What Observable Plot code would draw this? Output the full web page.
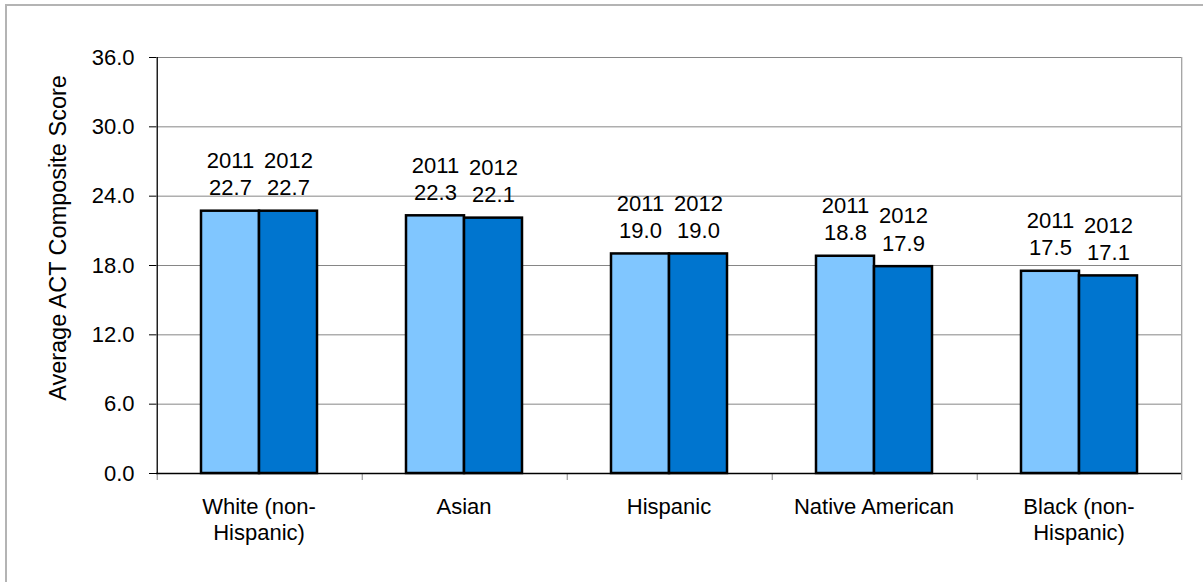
<!DOCTYPE html>
<html><head><meta charset="utf-8">
<script src="https://cdn.jsdelivr.net/npm/d3@7"></script>
<script src="https://cdn.jsdelivr.net/npm/@observablehq/plot@0.6"></script>
<style>
body{margin:0;background:#fff;}
#wrap{position:relative;width:1203px;height:582px;overflow:hidden;background:#fff;}
#border{position:absolute;left:5px;top:4px;width:2000px;height:2000px;border-left:2px solid #b4b4b4;border-top:2px solid #b4b4b4;pointer-events:none;}
</style></head><body><div id="wrap"><div id="border"></div></div>
<script>
const categories = ["White (non-\nHispanic)", "Asian", "Hispanic", "Native American", "Black (non-\nHispanic)"];
const years = ["2011", "2012"];
const values2011 = [22.7, 22.3, 19.0, 18.8, 17.5];
const values2012 = [22.7, 22.1, 19.0, 17.9, 17.1];
const yTicks = [0, 6, 12, 18, 24, 30, 36];
const yTitle = "Average ACT Composite Score";
const colors = ["#80C6FF", "#0075CF"];

const W = 1203, H = 582, mL = 155, mR = 21, mT = 57, mB = 109;
const po = 0.745;
const step = ((W - mL - mR) / categories.length) / (years.length + 2 * po);
const edge = (po + 0.5) * step;
const grid = "#868686";
const font = 22;

const data = categories.flatMap((c, i) => [
  {cat: c, year: years[0], value: values2011[i]},
  {cat: c, year: years[1], value: values2012[i]}
]);

const chart = Plot.plot({
  width: W, height: H,
  marginLeft: mL, marginRight: mR, marginTop: mT, marginBottom: mB,
  style: {fontFamily: "'Liberation Sans', Arial, sans-serif", background: "white", color: "black", overflow: "visible"},
  fx: {domain: categories, padding: 0},
  x: {domain: years, paddingInner: 0, paddingOuter: po, axis: null},
  y: {domain: [0, 36]},
  color: {domain: years, range: colors},
  marks: [
    Plot.ruleY(yTicks.filter(t => t > 0), {stroke: grid, strokeWidth: 1}),
    Plot.ruleX(categories, {fx: d => d, x: () => years[0], y1: 0, y2: 0, insetBottom: -7, dx: -edge, stroke: grid}),
    Plot.ruleX([categories[categories.length - 1]], {fx: d => d, x: () => years[1], y1: 36, y2: 0, insetBottom: -7, dx: edge, stroke: grid}),
    Plot.barY(data, {fx: "cat", x: "year", y: "value", fill: "year", stroke: "black", strokeWidth: 2.5}),
    Plot.ruleY([0], {stroke: "black", strokeWidth: 1.3}),
    Plot.ruleX([categories[0]], {fx: d => d, x: () => years[0], y1: 36, y2: 0, dx: -edge, stroke: "black", strokeWidth: 1.3}),
    Plot.text(data, {fx: "cat", x: "year", y: "value", text: d => `${d.year}\n${d.value.toFixed(1)}`,
      lineAnchor: "bottom", lineHeight: 1.24, dy: -16, fontSize: font, fill: "black"}),
    Plot.axisY(yTicks, {tickFormat: d => d.toFixed(1), tickSize: 7, tickPadding: 15, fontSize: font, label: null, stroke: "black"}),
    Plot.axisFx({anchor: "bottom", tickSize: 0, tickPadding: 22, fontSize: font, lineHeight: 1.18, label: null}),
    Plot.text([{cat: categories[0]}], {fx: "cat", frameAnchor: "left", textAnchor: "middle", text: () => yTitle, rotate: -90, dx: -98.5, dy: -27.5, fontSize: 23.5, fill: "black"})
  ]
});
document.getElementById("wrap").prepend(chart);
</script>
</body></html>
